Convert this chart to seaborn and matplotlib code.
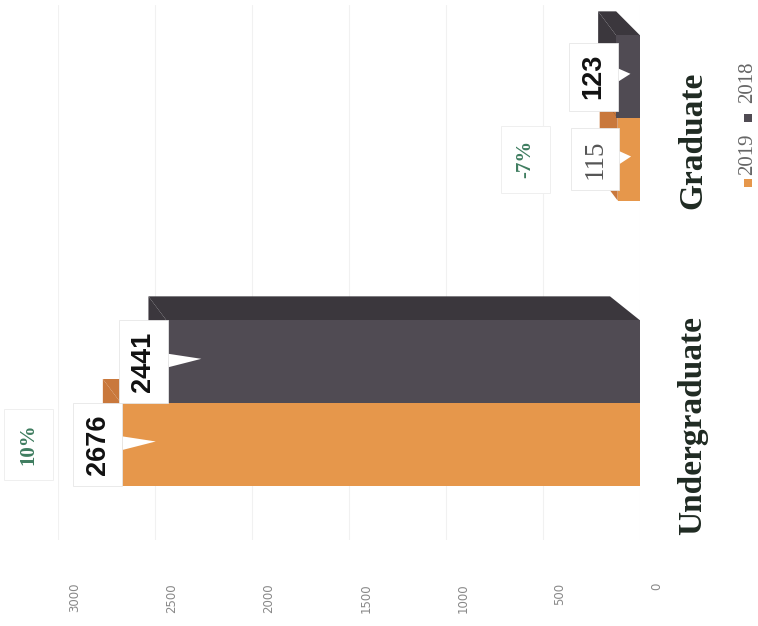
import matplotlib
matplotlib.use('Agg')
import matplotlib.pyplot as plt
import matplotlib.transforms as mtransforms
from matplotlib.patches import Polygon, Rectangle
import seaborn as sns
import pandas as pd

# enrolment by level, two academic years
levels = ['Graduate', 'Undergraduate']
years = ['2018', '2019']
students_2019 = [115, 2676]
students_2018 = [123, 2441]
change_labels = ['-7%', '10%']
value_ticks = [0, 500, 1000, 1500, 2000, 2500, 3000]

df = pd.DataFrame({
    'level': levels + levels,
    'year': ['2019'] * len(levels) + ['2018'] * len(levels),
    'students': students_2019 + students_2018,
})

palette = {'2019': '#e6974b', '2018': '#504b53'}
depth_colors = {'2019': '#c9783c', '2018': '#3b373d'}

W, H = 758, 626
L, R, T, B = 58, 640, 5, 540          # axes box in pixels
xmax = 3000
px_per_unit = (R - L) / xmax
y_px_per_cat = 285.0
ytop = (T - 118) / y_px_per_cat
ybot = (B - 118) / y_px_per_cat

sns.set_style('white')
fig = plt.figure(figsize=(W / 100, H / 100), dpi=100)
ax = fig.add_axes([L / W, 1 - B / H, (R - L) / W, (B - T) / H])

sns.barplot(data=df, x='students', y='level', hue='year', order=levels,
            hue_order=years, palette=palette, orient='h', width=0.58,
            saturation=1, legend=False, ax=ax)

ax.set_xlim(xmax, 0)
ax.set_ylim(ybot, ytop)
ax.set_xlabel('')
ax.set_ylabel('')
ax.set_xticks(value_ticks)
ax.set_xticklabels([])
ax.tick_params(axis='both', length=0, labelleft=False, labelbottom=False)
ax.grid(axis='x', color='#f1f1f1', lw=0.8)
ax.set_axisbelow(True)
sns.despine(ax=ax, left=True, bottom=True)

# fake 3D depth: offset up-left
ddx = 18 / px_per_unit
ddx_base = 30 / px_per_unit
ddy = -24 / y_px_per_cat
for p in ax.patches:
    p.set_zorder(3)
    p.set_edgecolor('none')

for container, yr in zip(ax.containers, years):
    for p in container:
        v, y0, h = p.get_width(), p.get_y(), p.get_height()
        top = Polygon([(0, y0), (v, y0), (v + ddx, y0 + ddy), (min(ddx_base, v), y0 + ddy)],
                      closed=True, fc=depth_colors[yr], ec='none', zorder=2)
        cap = Polygon([(v, y0), (v, y0 + h), (v + ddx, y0 + h + ddy), (v + ddx, y0 + ddy)],
                      closed=True, fc=depth_colors[yr], ec='none', zorder=2)
        ax.add_patch(top)
        ax.add_patch(cap)

# value callouts, box touching the bar end
label_off = 23 / px_per_unit
for container, yr in zip(ax.containers, years):
    for p, lev in zip(container, levels):
        v = p.get_width()
        yc = p.get_y() + p.get_height() / 2
        if yr == '2019' and lev == 'Graduate':
            style = dict(family='Liberation Serif', fontweight='normal', color='#555555')
        else:
            style = dict(family='Liberation Sans', fontweight='bold', color='#111111')
        tip = v - min(180, 0.6 * v)
        ax.annotate(f'{v:.0f}', xy=(tip, yc - 0.01), xytext=(v + label_off, yc),
                    rotation=90, ha='center', va='center', fontsize=19.5,
                    bbox=dict(boxstyle='square,pad=0.42', fc='white', ec='#e6e6e6', lw=0.6),
                    arrowprops=dict(arrowstyle='wedge,tail_width=0.5,shrink_factor=0.5',
                                    fc='white', ec='none', shrinkA=0, shrinkB=0),
                    zorder=5, annotation_clip=False, **style)

# year-over-year change
change_off = 92 / px_per_unit
for p, txt in zip(ax.containers[1], change_labels):
    v = p.get_width()
    yc = p.get_y() + p.get_height() / 2
    ax.text(v + change_off, yc, txt, rotation=90, ha='center', va='center',
            fontsize=15, family='Liberation Serif', fontweight='bold', color='#3f7d60',
            bbox=dict(boxstyle='square,pad=0.7', fc='white', ec='#efefef', lw=0.7),
            zorder=4, clip_on=False)

# value axis labels (shifted by the 3D floor offset)
shift = mtransforms.ScaledTranslation(17 / 100, 0, fig.dpi_scale_trans)
lab_tr = mtransforms.blended_transform_factory(ax.transData, ax.transAxes) + shift
for t in value_ticks:
    ax.text(t, 1 - (583 - T) / (B - T), f'{t}', transform=lab_tr, rotation=90,
            ha='center', va='top', fontsize=8.5, color='#888888', clip_on=False)

# category labels on the right
cat_tr = mtransforms.blended_transform_factory(ax.transAxes, ax.transData)
for i, lev in enumerate(levels):
    ax.text((693 - L) / (R - L), i + 0.08, lev, transform=cat_tr, rotation=90,
            ha='center', va='center', fontsize=24, family='Liberation Serif',
            fontweight='bold', color='#1f2a22', clip_on=False)

# legend (rotated, drawn by hand)
for yr, sq_y, txt_y in [('2019', 183, 154), ('2018', 118, 82)]:
    fig.add_artist(Rectangle(((748 - 4) / W, 1 - (sq_y + 4) / H), 8 / W, 8 / H,
                             transform=fig.transFigure, fc=palette[yr], ec='none'))
    fig.text(748 / W, 1 - txt_y / H, yr, rotation=90, ha='center', va='center',
             fontsize=15, family='Liberation Serif', color='#666666')

fig.savefig('out.png', dpi=100, facecolor='white')
